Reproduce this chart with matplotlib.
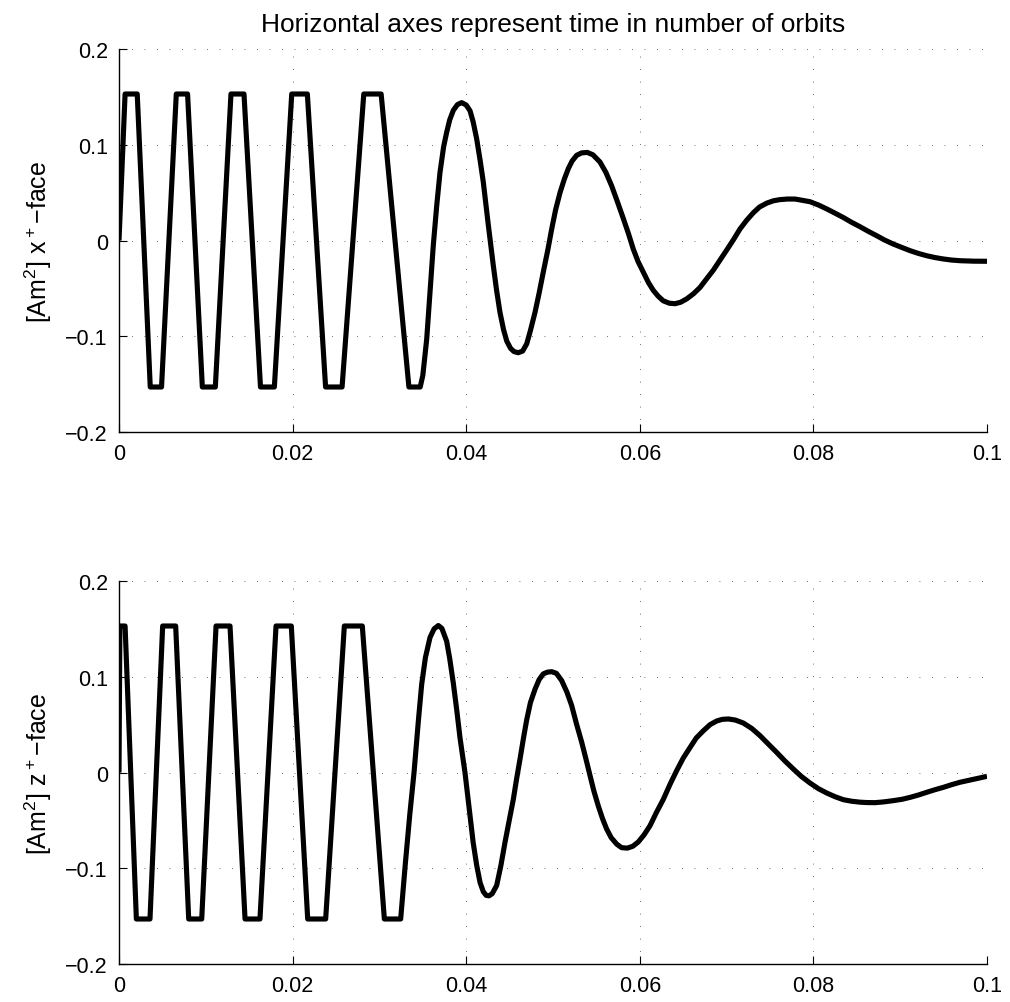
import matplotlib
matplotlib.use("Agg")
import matplotlib.pyplot as plt

plt.rcParams['font.family'] = ['Liberation Sans', 'DejaVu Sans']
plt.rcParams['mathtext.default'] = 'regular'

# ---- data ----
t_x = [0.0, 0.0007, 0.0021, 0.0036, 0.0049, 0.0066, 0.0079, 0.0096, 0.0111,
       0.0129, 0.0144, 0.0163, 0.0179, 0.0199, 0.0217, 0.0238, 0.0257,
       0.0282, 0.0302, 0.0334, 0.0347,
       0.0350, 0.03545, 0.03583, 0.03621, 0.0366, 0.03698, 0.0374, 0.03775,
       0.0381, 0.03852, 0.0390, 0.03948, 0.0400, 0.04044, 0.0408, 0.04121,
       0.0416, 0.04197, 0.04255, 0.04312, 0.0435, 0.04389, 0.0443, 0.04467,
       0.0451, 0.0455, 0.0460, 0.0465, 0.04697, 0.0474, 0.04793, 0.0484,
       0.04888, 0.0494, 0.04985, 0.0503, 0.05081, 0.0513, 0.05176, 0.0522,
       0.05273, 0.0533, 0.05395, 0.0546, 0.05541, 0.0561, 0.05676, 0.0574,
       0.0581, 0.0587, 0.05925, 0.0598, 0.0604, 0.0610, 0.06155, 0.0621,
       0.0627, 0.0634, 0.06406, 0.0647, 0.0654, 0.0662, 0.06694, 0.0677,
       0.06847, 0.0692, 0.07001, 0.0708, 0.07154, 0.0723, 0.07308, 0.0738,
       0.07462, 0.0754, 0.07615, 0.0770, 0.07788, 0.0787, 0.07961, 0.0806,
       0.08153, 0.0825, 0.08345, 0.0844, 0.08537, 0.0863, 0.08729, 0.0882,
       0.0892, 0.0902, 0.09113, 0.0921, 0.09305, 0.0940, 0.09497, 0.0959,
       0.09689, 0.0985, 0.1]
x_face = [0.0, 0.153, 0.153, -0.153, -0.153, 0.153, 0.153, -0.153, -0.153,
          0.153, 0.153, -0.153, -0.153, 0.153, 0.153, -0.153, -0.153,
          0.153, 0.153, -0.153, -0.153,
          -0.141, -0.103, -0.054, -0.005, 0.036, 0.071, 0.098, 0.113,
          0.126, 0.136, 0.1420, 0.1440, 0.1415, 0.1355, 0.124, 0.106,
          0.084, 0.061, 0.016, -0.026, -0.052, -0.075, -0.093, -0.105,
          -0.1125, -0.1160, -0.1172, -0.1155, -0.108, -0.094, -0.075, -0.055,
          -0.033, -0.010, 0.012, 0.032, 0.050, 0.064, 0.075, 0.083,
          0.089, 0.0915, 0.092, 0.0895, 0.082, 0.071, 0.057, 0.041,
          0.023, 0.007, -0.009, -0.022, -0.033, -0.044, -0.052, -0.058,
          -0.063, -0.0655, -0.066, -0.0645, -0.061, -0.0555, -0.049, -0.040,
          -0.031, -0.021, -0.010, 0.001, 0.012, 0.021, 0.029, 0.035,
          0.039, 0.0415, 0.0427, 0.0433, 0.0433, 0.042, 0.0405, 0.037,
          0.033, 0.0285, 0.024, 0.019, 0.0144, 0.0097, 0.005, 0.0005,
          -0.0037, -0.0073, -0.0106, -0.0135, -0.0159, -0.0178, -0.0193, -0.0204,
          -0.0211, -0.0216, -0.0217]

t_z = [0.0, 0.0001, 0.0007, 0.0020, 0.00357, 0.00503, 0.00653, 0.00803,
       0.00953, 0.01118, 0.01279, 0.01452, 0.01624, 0.01809, 0.01985,
       0.02174, 0.02381, 0.02596, 0.02803, 0.03057, 0.03245,
       0.0330, 0.0335, 0.03399, 0.0345, 0.03487, 0.0353, 0.03583, 0.0363,
       0.03679, 0.0372, 0.03775, 0.0381, 0.03852, 0.0389, 0.03929, 0.03986,
       0.04044, 0.0408, 0.04121, 0.0416, 0.04197, 0.0423, 0.04263, 0.0430,
       0.04351, 0.0440, 0.04447, 0.0450, 0.04543, 0.0458, 0.0462, 0.0466,
       0.04697, 0.0474, 0.04793, 0.0484, 0.04888, 0.04935, 0.04985, 0.0504,
       0.0510, 0.0516, 0.05215, 0.0527, 0.05331, 0.0538, 0.05426, 0.0547,
       0.05522, 0.0557, 0.05618, 0.0567, 0.05734, 0.0579, 0.05856, 0.0592,
       0.05983, 0.0605, 0.06118, 0.0619, 0.06271, 0.0635, 0.06425, 0.0650,
       0.06578, 0.0665, 0.06731, 0.0681, 0.06886, 0.0695, 0.0702, 0.0710,
       0.07192, 0.0729, 0.07385, 0.0748, 0.07577, 0.0767, 0.07768, 0.0786,
       0.07961, 0.0806, 0.08153, 0.0825, 0.08345, 0.0844, 0.08537, 0.0862,
       0.0871, 0.0881, 0.0892, 0.0902, 0.09113, 0.0921, 0.09305, 0.0940,
       0.09497, 0.0959, 0.09689, 0.0985, 0.1]
z_face = [0.0, 0.153, 0.153, -0.153, -0.153, 0.153, 0.153, -0.153,
          -0.153, 0.153, 0.153, -0.153, -0.153, 0.153, 0.153,
          -0.153, -0.153, 0.153, 0.153, -0.153, -0.153,
          -0.094, -0.044, 0.0, 0.055, 0.092, 0.120, 0.141, 0.150,
          0.1535, 0.1505, 0.137, 0.119, 0.093, 0.066, 0.036, 0.0,
          -0.045, -0.073, -0.097, -0.115, -0.1245, -0.1283, -0.1288, -0.1265,
          -0.118, -0.097, -0.073, -0.048, -0.028, -0.007, 0.014, 0.036,
          0.055, 0.073, 0.087, 0.097, 0.103, 0.1048, 0.1053, 0.1035,
          0.096, 0.084, 0.070, 0.051, 0.0315, 0.014, -0.003, -0.019,
          -0.035, -0.048, -0.059, -0.068, -0.0748, -0.0785, -0.079, -0.077,
          -0.0725, -0.065, -0.0555, -0.042, -0.028, -0.012, 0.002, 0.015,
          0.026, 0.036, 0.0435, 0.050, 0.0538, 0.0555, 0.0559, 0.0548,
          0.0517, 0.046, 0.0385, 0.0298, 0.021, 0.0122, 0.0037, -0.004,
          -0.011, -0.017, -0.0214, -0.0253, -0.0284, -0.030, -0.031, -0.0314,
          -0.0315, -0.0307, -0.0294, -0.028, -0.026, -0.0235, -0.0207, -0.018,
          -0.0155, -0.0128, -0.0102, -0.007, -0.004]

x_ticks = [0, 0.02, 0.04, 0.06, 0.08, 0.1]
x_tick_labels = ['0', '0.02', '0.04', '0.06', '0.08', '0.1']
y_ticks = [-0.2, -0.1, 0, 0.1, 0.2]
y_tick_labels = ['\u22120.2', '\u22120.1', '0', '0.1', '0.2']

title_text = 'Horizontal axes represent time in number of orbits'
ylabels = ['[Am$^2$] x$^+$\u2212face', '[Am$^2$] z$^+$\u2212face']

# ---- figure ----
W, H = 1010, 1003
fig = plt.figure(figsize=(W / 100, H / 100), dpi=100)
left = 119 / W
width = (987 - 119) / W
height = 383 / H
ax1 = fig.add_axes([left, 1 - 433 / H, width, height])
ax2 = fig.add_axes([left, 1 - 965 / H, width, height])

for ax, t, y, lab in [(ax1, t_x, x_face, ylabels[0]), (ax2, t_z, z_face, ylabels[1])]:
    ax.plot(t, y, color='black', linewidth=3.7, solid_joinstyle='round',
            solid_capstyle='butt')
    ax.set_xlim(0, 0.1)
    ax.set_ylim(-0.2, 0.2)
    ax.set_xticks(x_ticks)
    ax.set_xticklabels(x_tick_labels)
    ax.set_yticks(y_ticks)
    ax.set_yticklabels(y_tick_labels)
    ax.grid(True, color='0.25', linestyle=(0, (1, 14)), linewidth=0.6)
    ax.spines['top'].set_visible(False)
    ax.spines['right'].set_visible(False)
    ax.spines['left'].set_linewidth(1.0)
    ax.spines['bottom'].set_linewidth(1.0)
    ax.tick_params(direction='in', length=6, width=0.8, labelsize=15.5, pad=8)
    ax.set_ylabel(lab, fontsize=18, labelpad=8)

ax1.set_title(title_text, fontsize=19, pad=13)

fig.savefig('out.png', dpi=100)
